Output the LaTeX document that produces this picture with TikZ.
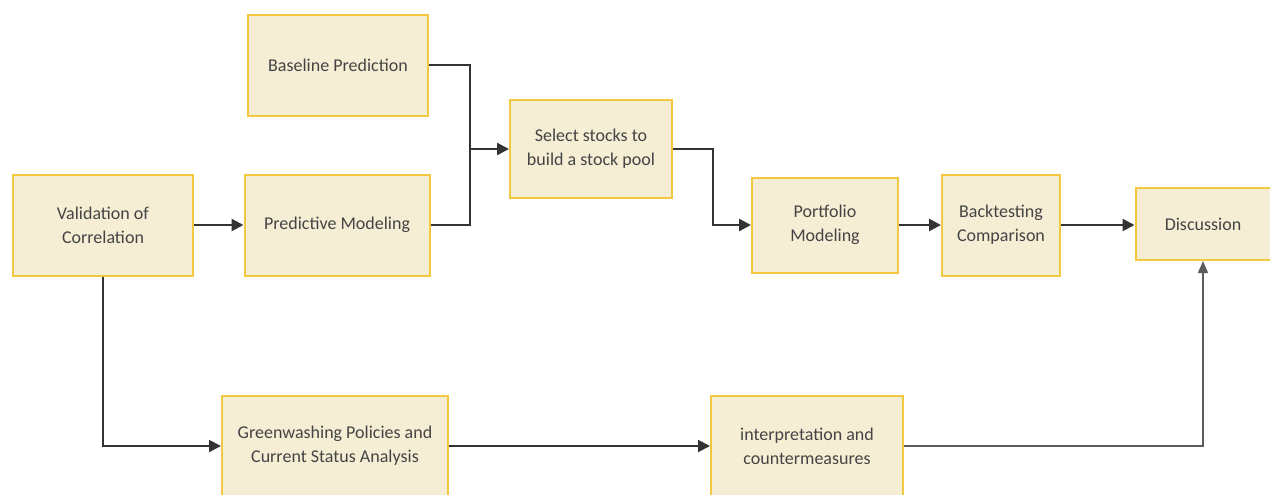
\documentclass[tikz,border=0pt]{standalone}
\usepackage{fontspec}
\setmainfont{Carlito}
\usepackage{tikz}
\usetikzlibrary{arrows.meta,positioning,calc}
\definecolor{stageline}{HTML}{F2C83E}
\definecolor{stagebg}{HTML}{F6EDD5}
\definecolor{inkc}{HTML}{444444}
\definecolor{wirec}{HTML}{333333}
\tikzset{
  stage/.style={draw=stageline,line width=1pt,fill=stagebg,inner sep=2pt,
    align=center,text=inkc,font=\fontsize{9}{12}\selectfont},
  flow/.style={-{Triangle[length=6pt,width=6pt]},line width=1.3pt,draw=wirec},
  wire/.style={line width=1.3pt,draw=wirec},
  flowlow/.style={flow,line width=1pt},
  flowthin/.style={-{Triangle[length=6pt,width=5pt]},line width=0.8pt,draw=wirec!80},
}
\begin{document}
\begin{tikzpicture}[x=0.5pt,y=-0.5pt]
  \useasboundingbox (0,0) rectangle (1270,494);
  % --- upper track ---
  \node[stage,minimum width=90pt,minimum height=50.5pt](valid) at (103,225){Validation of\\Correlation};
  \node[stage,minimum width=92.5pt,minimum height=50.5pt](pred) at (337,225){Predictive Modeling};
  \node[stage,minimum width=90pt,minimum height=50.5pt](base) at (338,65){Baseline Prediction};
  \node[stage,minimum width=81pt,minimum height=49pt](pool) at (591,149){Select stocks to\\build a stock pool};
  \node[stage,minimum width=73pt,minimum height=47.5pt](portf) at (825,225){Portfolio\\Modeling};
  \node[stage,minimum width=59pt,minimum height=50.5pt](back) at (1001,225){Backtesting\\Comparison};
  \node[stage,minimum width=67.5pt,minimum height=36pt](disc) at (1203,224){Discussion};
  % --- lower track ---
  \node[stage,minimum width=113pt,minimum height=50pt](green) at (335,446){Greenwashing Policies and\\Current Status Analysis};
  \node[stage,minimum width=96pt,minimum height=50pt](interp) at (807,446){interpretation and\\countermeasures};
  \coordinate (join) at (470,149);
  \draw[wire] (base.east) -| (join);
  \draw[wire] (pred.east) -| (join);
  \draw[flow] (join) -- (pool.west);
  \draw[flow] (valid) -- (pred);
  \draw[flow] (pool.east) -- ++(40,0) |- (portf.west);
  \draw[flow] (portf) -- (back);
  \draw[flow] (back.east) -- (disc.west |- back.east);
  \draw[flowlow] (valid.south) |- (green.west);
  \draw[flowlow] (green) -- (interp);
  \draw[flowthin] (interp.east) -| (disc.south);
\end{tikzpicture}
\end{document}
